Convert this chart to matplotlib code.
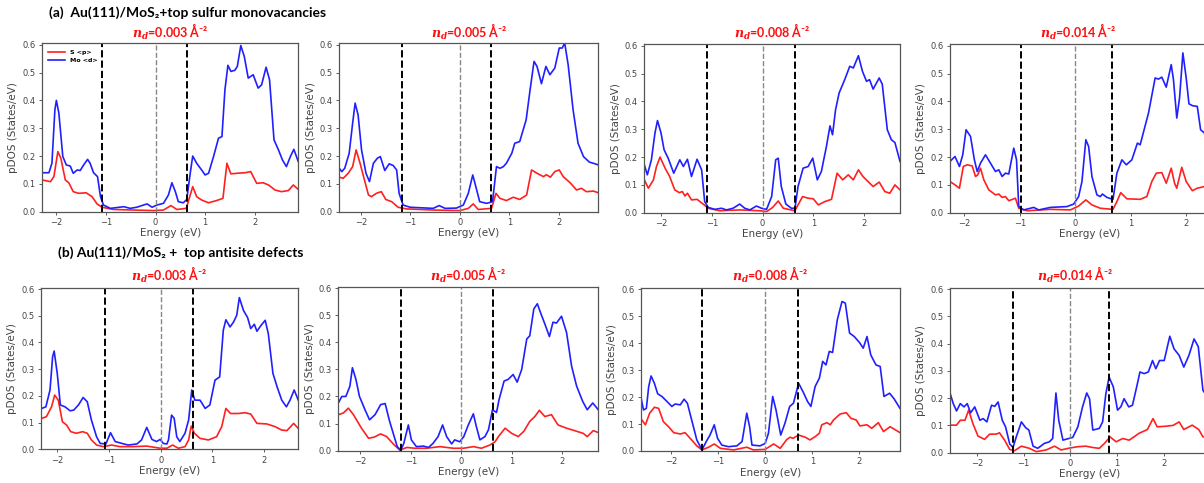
import matplotlib
matplotlib.use("Agg")
import matplotlib.pyplot as plt
from matplotlib.ticker import FixedLocator, MultipleLocator, FormatStrFormatter

plt.rcParams['mathtext.fontset'] = 'dejavuserif'

# ---------------- data ----------------
titles = ["(a)  Au(111)/MoS\u2082+top sulfur monovacancies",
          "(b) Au(111)/MoS\u2082 +  top antisite defects"]
densities = ["0.003", "0.005", "0.008", "0.014", "0.003", "0.005", "0.008", "0.014"]
series_labels = ["S <p>", "Mo <d>"]
energy_ticks = [-2, -1, 0, 1, 2]

# band edges (black dashed lines)
vbm = [-1.07, -1.17, -1.10, -0.98, -1.08, -1.19, -1.34, -1.22]
cbm = [0.63, 0.63, 0.65, 0.67, 0.62, 0.63, 0.70, 0.82]

# Panel 1 (a, 0.003)
p1_e_mo = [-2.29, -2.15, -2.09, -2.03, -2.0, -1.95, -1.87, -1.80, -1.72, -1.66, -1.58, -1.52, -1.45, -1.37, -1.32, -1.25, -1.17, -1.11, -1.05, -0.91, -0.64, -0.51, -0.38, -0.17, -0.07, 0.03, 0.16, 0.26, 0.33, 0.40, 0.46, 0.56, 0.63, 0.70, 0.75, 0.83, 0.93, 1.0, 1.07, 1.17, 1.27, 1.34, 1.40, 1.46, 1.52, 1.60, 1.65, 1.72, 1.79, 1.87, 1.97, 2.07, 2.14, 2.23, 2.30, 2.39, 2.48, 2.56, 2.64, 2.72, 2.79, 2.88]
p1_mo = [0.14, 0.14, 0.174, 0.366, 0.40, 0.354, 0.198, 0.168, 0.164, 0.138, 0.15, 0.148, 0.168, 0.188, 0.174, 0.14, 0.126, 0.054, 0.024, 0.012, 0.018, 0.012, 0.016, 0.028, 0.016, 0.024, 0.03, 0.06, 0.104, 0.072, 0.036, 0.032, 0.044, 0.138, 0.20, 0.174, 0.15, 0.132, 0.138, 0.198, 0.264, 0.27, 0.438, 0.526, 0.504, 0.508, 0.522, 0.597, 0.558, 0.48, 0.492, 0.444, 0.456, 0.519, 0.474, 0.258, 0.222, 0.186, 0.162, 0.198, 0.224, 0.18]
p1_e_s = [-2.29, -2.12, -2.05, -1.97, -1.91, -1.82, -1.75, -1.66, -1.55, -1.40, -1.28, -1.18, -1.08, -0.85, -0.44, -0.04, 0.16, 0.31, 0.43, 0.62, 0.68, 0.75, 0.83, 0.93, 1.07, 1.23, 1.36, 1.44, 1.52, 1.64, 1.81, 1.92, 2.04, 2.17, 2.28, 2.41, 2.54, 2.68, 2.78, 2.88]
p1_s = [0.114, 0.108, 0.126, 0.216, 0.192, 0.114, 0.104, 0.072, 0.066, 0.068, 0.054, 0.028, 0.016, 0.008, 0.006, 0.004, 0.006, 0.022, 0.008, 0.012, 0.048, 0.09, 0.054, 0.042, 0.032, 0.04, 0.048, 0.174, 0.136, 0.138, 0.14, 0.144, 0.102, 0.104, 0.096, 0.078, 0.072, 0.076, 0.096, 0.08]

# Panel 2 (a, 0.005)
p2_e_mo = [-2.44, -2.39, -2.33, -2.24, -2.17, -2.12, -2.06, -1.99, -1.90, -1.83, -1.75, -1.67, -1.61, -1.52, -1.43, -1.35, -1.28, -1.23, -1.15, -1.01, -0.54, -0.42, -0.30, -0.07, 0.07, 0.17, 0.26, 0.34, 0.40, 0.54, 0.66, 0.74, 0.81, 0.88, 0.94, 1.05, 1.11, 1.21, 1.34, 1.42, 1.50, 1.56, 1.65, 1.74, 1.82, 1.92, 2.01, 2.07, 2.12, 2.19, 2.29, 2.39, 2.50, 2.62, 2.70, 2.80]
p2_mo = [0.156, 0.144, 0.156, 0.21, 0.318, 0.39, 0.348, 0.222, 0.138, 0.108, 0.174, 0.192, 0.198, 0.148, 0.172, 0.166, 0.15, 0.066, 0.024, 0.016, 0.012, 0.022, 0.012, 0.013, 0.024, 0.066, 0.132, 0.078, 0.036, 0.03, 0.036, 0.162, 0.156, 0.162, 0.174, 0.21, 0.246, 0.252, 0.33, 0.438, 0.54, 0.522, 0.46, 0.522, 0.492, 0.516, 0.588, 0.588, 0.606, 0.528, 0.366, 0.246, 0.198, 0.178, 0.174, 0.168]
p2_e_s = [-2.44, -2.36, -2.26, -2.17, -2.10, -2.02, -1.94, -1.85, -1.79, -1.69, -1.59, -1.50, -1.38, -1.25, -1.08, -0.54, 0.0, 0.17, 0.27, 0.37, 0.64, 0.73, 0.81, 0.94, 1.08, 1.21, 1.35, 1.45, 1.56, 1.69, 1.75, 1.83, 1.92, 2.01, 2.09, 2.23, 2.36, 2.46, 2.56, 2.70, 2.80]
p2_s = [0.124, 0.12, 0.138, 0.162, 0.222, 0.174, 0.12, 0.06, 0.054, 0.066, 0.072, 0.044, 0.036, 0.016, 0.01, 0.006, 0.004, 0.012, 0.028, 0.008, 0.012, 0.066, 0.048, 0.04, 0.052, 0.044, 0.06, 0.15, 0.138, 0.126, 0.133, 0.124, 0.144, 0.15, 0.126, 0.104, 0.078, 0.084, 0.072, 0.074, 0.068]

# Panel 3 (a, 0.008)
p3_e_mo = [-2.33, -2.27, -2.19, -2.12, -2.07, -2.0, -1.94, -1.86, -1.75, -1.63, -1.56, -1.48, -1.40, -1.29, -1.20, -1.14, -1.07, -0.94, -0.81, -0.71, -0.58, -0.45, -0.35, -0.25, -0.12, -0.02, 0.08, 0.18, 0.26, 0.31, 0.37, 0.46, 0.57, 0.64, 0.70, 0.80, 0.90, 0.99, 1.08, 1.16, 1.26, 1.33, 1.38, 1.44, 1.51, 1.62, 1.72, 1.79, 1.89, 1.97, 2.05, 2.11, 2.18, 2.30, 2.36, 2.46, 2.54, 2.61, 2.71]
p3_mo = [0.172, 0.136, 0.19, 0.286, 0.331, 0.286, 0.226, 0.196, 0.142, 0.19, 0.166, 0.192, 0.13, 0.192, 0.154, 0.04, 0.019, 0.012, 0.016, 0.01, 0.016, 0.031, 0.016, 0.01, 0.024, 0.016, 0.012, 0.058, 0.19, 0.196, 0.094, 0.031, 0.016, 0.016, 0.094, 0.16, 0.166, 0.196, 0.118, 0.148, 0.238, 0.312, 0.28, 0.37, 0.43, 0.478, 0.526, 0.52, 0.564, 0.508, 0.472, 0.478, 0.444, 0.484, 0.462, 0.298, 0.262, 0.252, 0.184]
p3_e_s = [-2.33, -2.25, -2.15, -2.09, -2.02, -1.92, -1.83, -1.73, -1.64, -1.58, -1.53, -1.48, -1.40, -1.29, -1.17, -1.07, -0.84, -0.45, -0.05, 0.08, 0.20, 0.31, 0.41, 0.64, 0.70, 0.79, 0.90, 1.0, 1.10, 1.23, 1.36, 1.47, 1.58, 1.69, 1.79, 1.89, 1.98, 2.08, 2.18, 2.30, 2.41, 2.51, 2.61, 2.71]
p3_s = [0.118, 0.088, 0.118, 0.166, 0.2, 0.16, 0.13, 0.082, 0.072, 0.076, 0.06, 0.07, 0.046, 0.048, 0.031, 0.016, 0.007, 0.01, 0.007, 0.004, 0.019, 0.042, 0.016, 0.007, 0.028, 0.058, 0.052, 0.05, 0.028, 0.04, 0.048, 0.142, 0.118, 0.136, 0.118, 0.154, 0.13, 0.112, 0.094, 0.11, 0.076, 0.07, 0.1, 0.082]

# Panel 4 (a, 0.014)
p4_e_mo = [-2.26, -2.17, -2.09, -2.03, -1.97, -1.89, -1.82, -1.77, -1.71, -1.62, -1.53, -1.44, -1.38, -1.32, -1.26, -1.20, -1.11, -1.06, -1.02, -0.93, -0.75, -0.66, -0.45, -0.15, -0.03, 0.06, 0.12, 0.19, 0.24, 0.30, 0.39, 0.45, 0.49, 0.57, 0.68, 0.75, 0.84, 0.92, 1.02, 1.12, 1.17, 1.32, 1.44, 1.50, 1.56, 1.64, 1.73, 1.77, 1.83, 1.88, 1.94, 2.0, 2.05, 2.12, 2.20, 2.26, 2.33, 2.40]
p4_mo = [0.184, 0.202, 0.166, 0.208, 0.298, 0.274, 0.19, 0.148, 0.178, 0.208, 0.178, 0.148, 0.154, 0.13, 0.142, 0.139, 0.232, 0.19, 0.022, 0.01, 0.019, 0.01, 0.019, 0.022, 0.031, 0.058, 0.112, 0.262, 0.238, 0.13, 0.064, 0.058, 0.067, 0.055, 0.048, 0.142, 0.19, 0.172, 0.19, 0.25, 0.244, 0.358, 0.484, 0.48, 0.487, 0.451, 0.532, 0.478, 0.34, 0.412, 0.574, 0.484, 0.391, 0.384, 0.382, 0.298, 0.286, 0.2]
p4_e_s = [-2.26, -2.17, -2.09, -2.02, -1.95, -1.86, -1.80, -1.76, -1.71, -1.65, -1.56, -1.44, -1.38, -1.32, -1.26, -1.20, -1.08, -1.02, -0.87, -0.45, -0.09, 0.06, 0.19, 0.30, 0.45, 0.68, 0.75, 0.82, 0.93, 1.17, 1.29, 1.38, 1.46, 1.56, 1.64, 1.73, 1.79, 1.83, 1.92, 2.0, 2.11, 2.20, 2.33, 2.40]
p4_s = [0.112, 0.1, 0.088, 0.166, 0.172, 0.168, 0.13, 0.136, 0.16, 0.118, 0.082, 0.064, 0.067, 0.055, 0.058, 0.043, 0.052, 0.016, 0.007, 0.012, 0.01, 0.024, 0.046, 0.028, 0.016, 0.012, 0.04, 0.072, 0.05, 0.048, 0.058, 0.112, 0.142, 0.144, 0.106, 0.16, 0.106, 0.088, 0.163, 0.112, 0.079, 0.088, 0.094, 0.09]

# Panel 5 (b, 0.003)
p5_e_mo = [-2.30, -2.22, -2.14, -2.09, -2.06, -2.0, -1.94, -1.85, -1.75, -1.68, -1.59, -1.50, -1.42, -1.34, -1.24, -1.17, -1.06, -0.97, -0.88, -0.75, -0.63, -0.46, -0.37, -0.27, -0.17, -0.08, -0.01, 0.05, 0.12, 0.15, 0.21, 0.26, 0.31, 0.37, 0.47, 0.54, 0.60, 0.66, 0.76, 0.86, 0.95, 1.05, 1.14, 1.21, 1.26, 1.34, 1.41, 1.47, 1.52, 1.60, 1.68, 1.74, 1.81, 1.86, 1.94, 2.02, 2.08, 2.17, 2.25, 2.34, 2.43, 2.50, 2.58, 2.66]
p5_mo = [0.153, 0.159, 0.222, 0.346, 0.368, 0.284, 0.166, 0.159, 0.144, 0.147, 0.166, 0.194, 0.178, 0.11, 0.047, 0.022, 0.02, 0.062, 0.029, 0.022, 0.016, 0.02, 0.035, 0.082, 0.037, 0.029, 0.037, 0.022, 0.02, 0.035, 0.128, 0.116, 0.047, 0.029, 0.06, 0.11, 0.222, 0.184, 0.184, 0.153, 0.166, 0.259, 0.271, 0.446, 0.485, 0.458, 0.477, 0.502, 0.568, 0.52, 0.493, 0.452, 0.468, 0.442, 0.464, 0.483, 0.433, 0.284, 0.234, 0.184, 0.159, 0.184, 0.222, 0.184]
p5_e_s = [-2.30, -2.21, -2.11, -2.05, -1.98, -1.90, -1.82, -1.74, -1.63, -1.51, -1.42, -1.34, -1.24, -1.11, -0.95, -0.79, -0.53, -0.27, -0.01, 0.12, 0.23, 0.34, 0.47, 0.54, 0.59, 0.65, 0.76, 0.92, 1.08, 1.18, 1.26, 1.35, 1.50, 1.63, 1.74, 1.86, 2.05, 2.21, 2.34, 2.44, 2.57, 2.66]
p5_s = [0.116, 0.122, 0.159, 0.203, 0.184, 0.103, 0.091, 0.066, 0.06, 0.066, 0.06, 0.035, 0.016, 0.01, 0.016, 0.01, 0.01, 0.012, 0.004, 0.004, 0.016, 0.004, 0.01, 0.035, 0.087, 0.06, 0.041, 0.035, 0.047, 0.085, 0.153, 0.134, 0.134, 0.137, 0.132, 0.097, 0.095, 0.085, 0.072, 0.07, 0.097, 0.078]

# Panel 6 (b, 0.005)
p6_e_mo = [-2.44, -2.37, -2.29, -2.21, -2.16, -2.09, -2.02, -1.91, -1.82, -1.71, -1.60, -1.51, -1.43, -1.35, -1.27, -1.20, -1.14, -1.05, -0.99, -0.89, -0.75, -0.65, -0.56, -0.46, -0.37, -0.29, -0.19, -0.13, -0.03, 0.05, 0.14, 0.24, 0.30, 0.37, 0.47, 0.54, 0.62, 0.70, 0.75, 0.85, 0.93, 1.03, 1.11, 1.20, 1.30, 1.36, 1.44, 1.51, 1.57, 1.66, 1.75, 1.82, 1.89, 1.99, 2.09, 2.19, 2.29, 2.41, 2.50, 2.61, 2.72]
p6_mo = [0.176, 0.2, 0.2, 0.238, 0.306, 0.263, 0.2, 0.151, 0.114, 0.133, 0.17, 0.174, 0.114, 0.064, 0.015, 0.002, 0.027, 0.095, 0.04, 0.015, 0.017, 0.012, 0.027, 0.052, 0.095, 0.052, 0.025, 0.04, 0.033, 0.052, 0.095, 0.136, 0.089, 0.04, 0.052, 0.077, 0.151, 0.141, 0.188, 0.257, 0.263, 0.281, 0.253, 0.3, 0.412, 0.424, 0.523, 0.542, 0.511, 0.467, 0.421, 0.474, 0.471, 0.496, 0.436, 0.312, 0.238, 0.182, 0.151, 0.176, 0.151]
p6_e_s = [-2.44, -2.34, -2.24, -2.14, -2.06, -1.98, -1.84, -1.73, -1.60, -1.48, -1.35, -1.22, -1.08, -0.92, -0.69, -0.42, -0.16, 0.04, 0.24, 0.40, 0.57, 0.67, 0.75, 0.87, 1.0, 1.13, 1.24, 1.36, 1.46, 1.55, 1.66, 1.79, 1.92, 2.09, 2.25, 2.42, 2.50, 2.62, 2.72]
p6_s = [0.133, 0.139, 0.157, 0.133, 0.108, 0.083, 0.046, 0.05, 0.062, 0.052, 0.025, 0.002, 0.012, 0.009, 0.009, 0.015, 0.009, 0.009, 0.015, 0.009, 0.021, 0.033, 0.055, 0.083, 0.064, 0.052, 0.071, 0.108, 0.126, 0.149, 0.126, 0.133, 0.095, 0.083, 0.074, 0.064, 0.052, 0.074, 0.067]

# Panel 7 (b, 0.008)
p7_e_mo = [-2.64, -2.58, -2.52, -2.47, -2.42, -2.35, -2.28, -2.19, -2.08, -1.98, -1.91, -1.80, -1.72, -1.65, -1.55, -1.45, -1.34, -1.25, -1.17, -1.08, -1.01, -0.92, -0.78, -0.60, -0.49, -0.39, -0.33, -0.28, -0.11, 0.0, 0.07, 0.16, 0.23, 0.33, 0.42, 0.52, 0.60, 0.71, 0.81, 0.90, 0.97, 1.06, 1.15, 1.22, 1.29, 1.36, 1.43, 1.53, 1.63, 1.70, 1.79, 1.89, 2.0, 2.08, 2.16, 2.24, 2.35, 2.44, 2.52, 2.64, 2.74, 2.86]
p7_mo = [0.202, 0.152, 0.158, 0.239, 0.278, 0.251, 0.212, 0.202, 0.183, 0.165, 0.174, 0.171, 0.192, 0.177, 0.109, 0.041, 0.004, 0.035, 0.059, 0.097, 0.047, 0.022, 0.016, 0.019, 0.035, 0.14, 0.09, 0.022, 0.019, 0.028, 0.066, 0.202, 0.152, 0.059, 0.103, 0.165, 0.177, 0.251, 0.217, 0.183, 0.165, 0.239, 0.27, 0.332, 0.319, 0.369, 0.365, 0.486, 0.554, 0.548, 0.437, 0.424, 0.402, 0.381, 0.424, 0.356, 0.319, 0.313, 0.202, 0.214, 0.192, 0.158]
p7_e_s = [-2.64, -2.54, -2.45, -2.35, -2.26, -2.16, -2.05, -1.94, -1.80, -1.70, -1.59, -1.45, -1.34, -1.20, -1.08, -0.95, -0.67, -0.39, -0.25, 0.0, 0.18, 0.32, 0.46, 0.53, 0.59, 0.71, 0.85, 0.95, 1.06, 1.15, 1.20, 1.31, 1.38, 1.45, 1.59, 1.72, 1.82, 1.93, 2.01, 2.16, 2.26, 2.40, 2.51, 2.65, 2.86]
p7_s = [0.121, 0.097, 0.14, 0.162, 0.158, 0.109, 0.09, 0.068, 0.063, 0.068, 0.047, 0.019, 0.004, 0.014, 0.026, 0.01, 0.004, 0.014, 0.004, 0.006, 0.026, 0.01, 0.043, 0.051, 0.047, 0.059, 0.051, 0.041, 0.053, 0.066, 0.097, 0.105, 0.097, 0.115, 0.137, 0.142, 0.121, 0.115, 0.093, 0.097, 0.084, 0.105, 0.072, 0.09, 0.068]

# Panel 8 (b, 0.014)
p8_e_mo = [-2.58, -2.51, -2.44, -2.36, -2.28, -2.21, -2.14, -2.05, -1.94, -1.87, -1.79, -1.69, -1.62, -1.55, -1.46, -1.39, -1.30, -1.23, -1.16, -1.05, -0.96, -0.89, -0.80, -0.70, -0.56, -0.45, -0.38, -0.31, -0.25, -0.16, -0.06, 0.05, 0.16, 0.26, 0.35, 0.41, 0.48, 0.62, 0.69, 0.76, 0.83, 0.92, 1.01, 1.08, 1.15, 1.25, 1.33, 1.42, 1.49, 1.58, 1.67, 1.76, 1.83, 1.91, 2.01, 2.13, 2.22, 2.33, 2.43, 2.54, 2.65, 2.74, 2.84, 2.95]
p8_mo = [0.219, 0.18, 0.153, 0.18, 0.168, 0.18, 0.146, 0.168, 0.119, 0.125, 0.113, 0.174, 0.17, 0.186, 0.119, 0.095, 0.032, 0.019, 0.058, 0.113, 0.092, 0.083, 0.024, 0.016, 0.034, 0.04, 0.052, 0.219, 0.119, 0.046, 0.051, 0.056, 0.095, 0.168, 0.219, 0.198, 0.083, 0.089, 0.113, 0.217, 0.277, 0.241, 0.156, 0.168, 0.198, 0.168, 0.174, 0.241, 0.296, 0.29, 0.296, 0.338, 0.308, 0.338, 0.338, 0.427, 0.381, 0.357, 0.314, 0.357, 0.417, 0.389, 0.229, 0.2]
p8_e_s = [-2.58, -2.44, -2.36, -2.26, -2.18, -2.09, -1.98, -1.84, -1.73, -1.59, -1.52, -1.41, -1.30, -1.20, -1.05, -0.88, -0.73, -0.52, -0.34, -0.20, -0.02, 0.16, 0.33, 0.48, 0.62, 0.73, 0.85, 0.98, 1.12, 1.26, 1.47, 1.65, 1.77, 1.86, 2.04, 2.20, 2.33, 2.43, 2.61, 2.75, 2.84, 2.95]
p8_s = [0.101, 0.101, 0.119, 0.119, 0.156, 0.107, 0.061, 0.049, 0.068, 0.068, 0.073, 0.046, 0.012, 0.007, 0.024, 0.016, 0.004, 0.01, 0.024, 0.01, 0.017, 0.022, 0.024, 0.019, 0.016, 0.034, 0.058, 0.04, 0.052, 0.046, 0.071, 0.085, 0.125, 0.095, 0.097, 0.1, 0.113, 0.085, 0.101, 0.085, 0.058, 0.06]

mo_e = [p1_e_mo, p2_e_mo, p3_e_mo, p4_e_mo, p5_e_mo, p6_e_mo, p7_e_mo, p8_e_mo]
mo_v = [p1_mo, p2_mo, p3_mo, p4_mo, p5_mo, p6_mo, p7_mo, p8_mo]
s_e = [p1_e_s, p2_e_s, p3_e_s, p4_e_s, p5_e_s, p6_e_s, p7_e_s, p8_e_s]
s_v = [p1_s, p2_s, p3_s, p4_s, p5_s, p6_s, p7_s, p8_s]

# ---------------- layout (pixel boxes: left, top, right, bottom) ----------------
W, H = 1204, 483
boxes = [(42, 43.3, 298.3, 211.7), (339.3, 43.3, 598.3, 211.7),
         (644.3, 44.3, 900, 212.7), (950, 44.3, 1230, 212.7),
         (40.7, 287.7, 298.3, 449.3), (338.3, 286.7, 598.3, 450.7),
         (640.7, 287.7, 900, 451), (950, 287.7, 1230, 452.7)]
xlims = [(-2.29, 2.88), (-2.44, 2.80), (-2.33, 2.71), (-2.26, 2.79),
         (-2.32, 2.66), (-2.44, 2.72), (-2.64, 2.86), (-2.58, 3.42)]
subtitle_x = [170, 469, 772, 1078, 169, 468, 770, 1075]

fig = plt.figure(figsize=(W / 100, H / 100), dpi=100)
title_font = ['Lato', 'DejaVu Sans']
grey = '#444444'

for i in range(8):
    l, t, r, b = boxes[i]
    ax = fig.add_axes([l / W, 1 - b / H, (r - l) / W, (b - t) / H])
    ax.plot(s_e[i], s_v[i], color='#ff2020', lw=1.2, label=series_labels[0])
    ax.plot(mo_e[i], mo_v[i], color='#2020ff', lw=1.2, label=series_labels[1])
    ax.axvline(vbm[i], color='black', ls='--', lw=1.4)
    ax.axvline(cbm[i], color='black', ls='--', lw=1.4)
    ax.axvline(0, color='#888888', ls='--', lw=1.0)
    ax.set_xlim(*xlims[i])
    ax.set_ylim(0, 0.605)
    ax.xaxis.set_major_locator(FixedLocator(energy_ticks))
    ax.yaxis.set_major_locator(MultipleLocator(0.1))
    ax.yaxis.set_major_formatter(FormatStrFormatter('%.1f'))
    ax.tick_params(labelsize=6, colors=grey, length=2.5, width=0.6, pad=2)
    for sp in ax.spines.values():
        sp.set_color('#555555')
        sp.set_linewidth(0.9)
    ax.set_xlabel('Energy (eV)', fontsize=7.5, color=grey, labelpad=1)
    ax.set_ylabel('pDOS (States/eV)', fontsize=7.5, color=grey, labelpad=3)
    ty = 32 if i < 4 else 275
    fig.text(subtitle_x[i] / W, 1 - ty / H,
             r'$\mathbfit{n}_{\mathbfit{d}}$' + '=' + densities[i] + ' \u00c5\u207b\u00b2',
             color='#ff1010', fontsize=9, fontweight='bold', family=title_font,
             ha='center', va='center')
    if i == 0:
        ax.legend(loc='upper left', frameon=False, prop={'size': 4.5, 'weight': 'bold'},
                  handlelength=2.6, borderaxespad=0.6, labelspacing=0.4,
                  bbox_to_anchor=(0.0, 1.0))

fig.text(49 / W, 1 - 13 / H, titles[0], fontsize=10, fontweight='bold',
         family=title_font, ha='left', va='center', color='black')
fig.text(58 / W, 1 - 253 / H, titles[1], fontsize=10, fontweight='bold',
         family=title_font, ha='left', va='center', color='black')

fig.savefig('out.png', dpi=100)
